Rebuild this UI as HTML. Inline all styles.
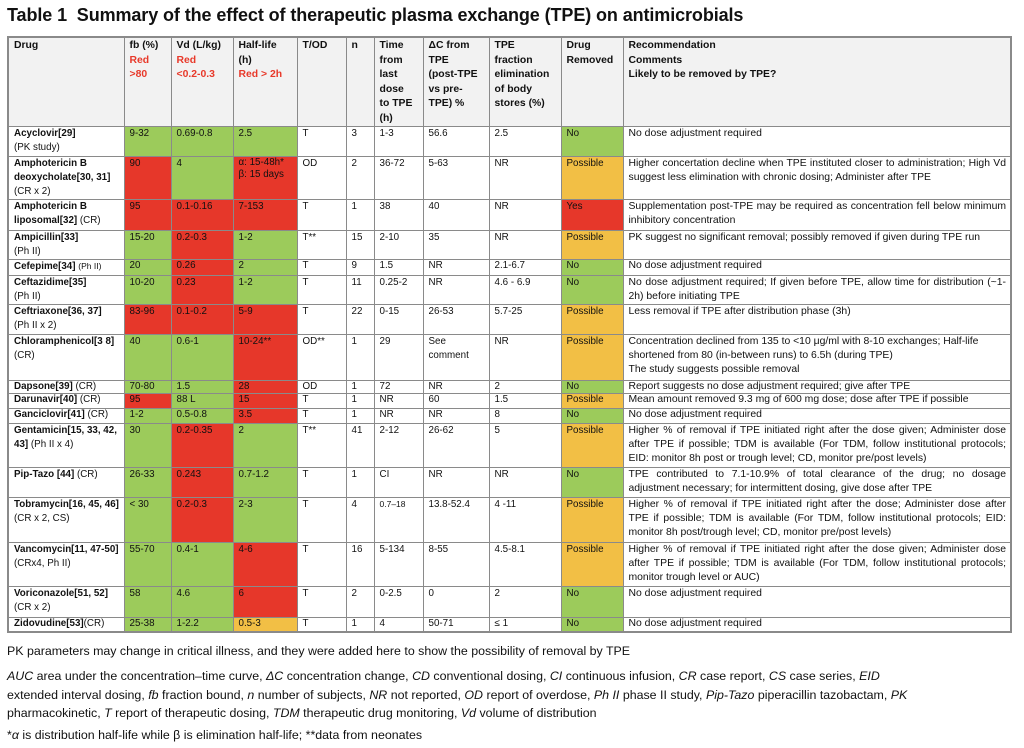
<!DOCTYPE html>
<html><head><meta charset="utf-8">
<style>
*{margin:0;padding:0;box-sizing:border-box}
body{width:1024px;height:748px;background:#fff;font-family:"Liberation Sans",sans-serif;color:#111;position:relative;overflow:hidden}
h1{position:absolute;left:7px;top:5px;font-size:18px;font-weight:bold;letter-spacing:-0.1px;white-space:nowrap}
table{position:absolute;left:7px;top:36px;width:1005px;border-collapse:collapse;table-layout:fixed;font-size:9.8px;line-height:13.8px;border:2px solid #8a8a8a}
td{border:1px solid #8a8a8a;vertical-align:top;padding:0 4px 0 5px;overflow:hidden}
thead td{background:#f2f2f2;font-weight:bold;font-size:10.4px;padding-top:1px;line-height:14.5px}
td:last-child{font-size:10.4px}
tr.s td{line-height:12.4px}
.r{color:#e8392a}
.g{background:#9ccb5b}
.rd{background:#e6372a}
.o{background:#f2bf45}
.j{text-align:justify}
b{font-weight:bold}
.ft{position:absolute;left:7px;font-size:12.4px;line-height:18.5px;white-space:nowrap}
</style></head><body>
<h1>Table 1&nbsp; Summary of the effect of therapeutic plasma exchange (TPE) on antimicrobials</h1>
<table>
<colgroup><col style="width:116px"><col style="width:47px"><col style="width:62px"><col style="width:64px"><col style="width:49px"><col style="width:28px"><col style="width:49px"><col style="width:66px"><col style="width:72px"><col style="width:62px"><col></colgroup>
<thead><tr style="height:88px"><td>Drug</td><td>fb (%)<br><span class="r">Red<br>&gt;80</span></td><td>Vd (L/kg)<br><span class="r">Red<br>&lt;0.2-0.3</span></td><td>Half-life<br>(h)<br><span class="r">Red &gt; 2h</span></td><td>T/OD</td><td>n</td><td>Time<br>from<br>last<br>dose<br>to TPE<br>(h)</td><td>ΔC from<br>TPE<br>(post-TPE<br>vs pre-<br>TPE) %</td><td>TPE<br>fraction<br>elimination<br>of body<br>stores (%)</td><td>Drug<br>Removed</td><td>Recommendation<br>Comments<br>Likely to be removed by TPE?</td></tr></thead>
<tbody>
<tr style="height:30px"><td><b>Acyclovir[29]</b><br>(PK study)</td><td class="g">9-32</td><td class="g">0.69-0.8</td><td class="g">2.5</td><td>T</td><td>3</td><td>1-3</td><td>56.6</td><td>2.5</td><td class="g">No</td><td>No dose adjustment required</td></tr>
<tr style="height:43px"><td><b>Amphotericin B deoxycholate[30, 31]</b> (CR x 2)</td><td class="rd">90</td><td class="g">4</td><td class="rd" style="line-height:12px">α: 15-48h*<br>β: 15 days</td><td>OD</td><td>2</td><td>36-72</td><td>5-63</td><td>NR</td><td class="o">Possible</td><td class="j">Higher concertation decline when TPE instituted closer to administration; High Vd suggest less elimination with chronic dosing; Administer after TPE</td></tr>
<tr style="height:31px"><td><b>Amphotericin B liposomal[32]</b> (CR)</td><td class="rd">95</td><td class="rd">0.1-0.16</td><td class="rd">7-153</td><td>T</td><td>1</td><td>38</td><td>40</td><td>NR</td><td class="rd">Yes</td><td class="j">Supplementation post-TPE may be required as concentration fell below minimum inhibitory concentration</td></tr>
<tr style="height:29px"><td><b>Ampicillin[33]</b><br>(Ph II)</td><td class="g">15-20</td><td class="rd">0.2-0.3</td><td class="g">1-2</td><td>T**</td><td>15</td><td>2-10</td><td>35</td><td>NR</td><td class="o">Possible</td><td>PK suggest no significant removal; possibly removed if given during TPE run</td></tr>
<tr class="s" style="height:16px"><td><b>Cefepime[34]</b> <span style="font-size:8.5px">(Ph II)</span></td><td class="g">20</td><td class="rd">0.26</td><td class="g">2</td><td>T</td><td>9</td><td>1.5</td><td>NR</td><td>2.1-6.7</td><td class="g">No</td><td>No dose adjustment required</td></tr>
<tr style="height:29px"><td><b>Ceftazidime[35]</b><br>(Ph II)</td><td class="g">10-20</td><td class="rd">0.23</td><td class="g">1-2</td><td>T</td><td>11</td><td>0.25-2</td><td>NR</td><td>4.6 - 6.9</td><td class="g">No</td><td class="j">No dose adjustment required; If given before TPE, allow time for distribution (~1-2h) before initiating TPE</td></tr>
<tr style="height:30px"><td><b>Ceftriaxone[36, 37]</b><br>(Ph II x 2)</td><td class="rd">83-96</td><td class="rd">0.1-0.2</td><td class="rd">5-9</td><td>T</td><td>22</td><td>0-15</td><td>26-53</td><td>5.7-25</td><td class="o">Possible</td><td>Less removal if TPE after distribution phase (3h)</td></tr>
<tr style="height:46px"><td><b>Chloramphenicol[3 8]</b> (CR)</td><td class="g">40</td><td class="g">0.6-1</td><td class="rd">10-24**</td><td>OD**</td><td>1</td><td>29</td><td>See<br>comment</td><td>NR</td><td class="o">Possible</td><td>Concentration declined from 135 to &lt;10 μg/ml with 8-10 exchanges; Half-life shortened from 80 (in-between runs) to 6.5h (during TPE)<br>The study suggests possible removal</td></tr>
<tr class="s" style="height:13px"><td><b>Dapsone[39]</b> (CR)</td><td class="g">70-80</td><td class="g">1.5</td><td class="rd">28</td><td>OD</td><td>1</td><td>72</td><td>NR</td><td>2</td><td class="g">No</td><td>Report suggests no dose adjustment required; give after TPE</td></tr>
<tr class="s" style="height:15px"><td><b>Darunavir[40]</b> (CR)</td><td class="rd">95</td><td class="g">88 L</td><td class="rd">15</td><td>T</td><td>1</td><td>NR</td><td>60</td><td>1.5</td><td class="o">Possible</td><td>Mean amount removed 9.3 mg of 600 mg dose; dose after TPE if possible</td></tr>
<tr class="s" style="height:15px"><td><b>Ganciclovir[41]</b> (CR)</td><td class="g">1-2</td><td class="g">0.5-0.8</td><td class="rd">3.5</td><td>T</td><td>1</td><td>NR</td><td>NR</td><td>8</td><td class="g">No</td><td>No dose adjustment required</td></tr>
<tr style="height:44px"><td><b>Gentamicin[15, 33, 42, 43]</b> (Ph II x 4)</td><td class="g">30</td><td class="rd">0.2-0.35</td><td class="g">2</td><td>T**</td><td>41</td><td>2-12</td><td>26-62</td><td>5</td><td class="o">Possible</td><td class="j">Higher % of removal if TPE initiated right after the dose given; Administer dose after TPE if possible; TDM is available (For TDM, follow institutional protocols; EID: monitor 8h post or trough level; CD, monitor pre/post levels)</td></tr>
<tr style="height:30px"><td><b>Pip-Tazo [44]</b> (CR)</td><td class="g">26-33</td><td class="rd">0.243</td><td class="g">0.7-1.2</td><td>T</td><td>1</td><td>CI</td><td>NR</td><td>NR</td><td class="g">No</td><td class="j">TPE contributed to 7.1-10.9% of total clearance of the drug; no dosage adjustment necessary; for intermittent dosing, give dose after TPE</td></tr>
<tr style="height:45px"><td><b>Tobramycin[16, 45, 46]</b> (CR x 2, CS)</td><td class="g">&lt; 30</td><td class="rd">0.2-0.3</td><td class="g">2-3</td><td>T</td><td>4</td><td style="font-size:8.5px">0.7–18</td><td>13.8-52.4</td><td>4 -11</td><td class="o">Possible</td><td class="j">Higher % of removal if TPE initiated right after the dose; Administer dose after TPE if possible; TDM is available (For TDM, follow institutional protocols; EID: monitor 8h post/trough level; CD, monitor pre/post levels)</td></tr>
<tr style="height:44px"><td><b>Vancomycin[11, 47-50]</b> (CRx4, Ph II)</td><td class="g">55-70</td><td class="g">0.4-1</td><td class="rd">4-6</td><td>T</td><td>16</td><td>5-134</td><td>8-55</td><td>4.5-8.1</td><td class="o">Possible</td><td class="j">Higher % of removal if TPE initiated right after the dose given; Administer dose after TPE if possible; TDM is available (For TDM, follow institutional protocols; monitor trough level or AUC)</td></tr>
<tr style="height:31px"><td><b>Voriconazole[51, 52]</b> (CR x 2)</td><td class="g">58</td><td class="g">4.6</td><td class="rd">6</td><td>T</td><td>2</td><td>0-2.5</td><td>0</td><td>2</td><td class="g">No</td><td>No dose adjustment required</td></tr>
<tr class="s" style="height:14px"><td><b>Zidovudine[53]</b>(CR)</td><td class="g">25-38</td><td class="g">1-2.2</td><td class="o">0.5-3</td><td>T</td><td>1</td><td>4</td><td>50-71</td><td>≤ 1</td><td class="g">No</td><td>No dose adjustment required</td></tr>
</tbody></table>
<div class="ft" style="top:642px">PK parameters may change in critical illness, and they were added here to show the possibility of removal by TPE</div>
<div class="ft" style="top:667px"><i>AUC</i> area under the concentration–time curve, <i>ΔC</i> concentration change, <i>CD</i> conventional dosing, <i>CI</i> continuous infusion, <i>CR</i> case report, <i>CS</i> case series, <i>EID</i><br>extended interval dosing, <i>fb</i> fraction bound, <i>n</i> number of subjects, <i>NR</i> not reported, <i>OD</i> report of overdose, <i>Ph II</i> phase II study, <i>Pip-Tazo</i> piperacillin tazobactam, <i>PK</i><br>pharmacokinetic, <i>T</i> report of therapeutic dosing, <i>TDM</i> therapeutic drug monitoring, <i>Vd</i> volume of distribution</div>
<div class="ft" style="top:726px">*<i>α</i> is distribution half-life while β is elimination half-life; **data from neonates</div>
</body></html>
